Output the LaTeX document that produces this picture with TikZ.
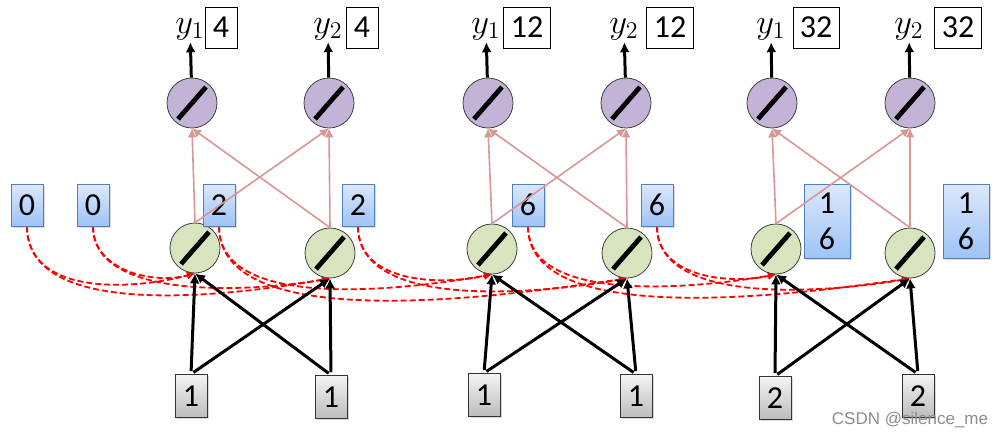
\documentclass[tikz,border=0pt]{standalone}
\usepackage{fontspec}
\setmainfont{Carlito}
\newfontfamily\wmfont{Liberation Sans}
\usetikzlibrary{arrows.meta}
\usetikzlibrary{positioning}
\usetikzlibrary{shadows}
\usetikzlibrary{backgrounds}

\definecolor{hidgreen}{HTML}{D7E4BD}
\definecolor{outpurple}{HTML}{C3B3D6}
\definecolor{linkpink}{HTML}{D99694}
\definecolor{memblue}{HTML}{4F81BD}
\definecolor{memtop}{HTML}{DCE8FB}
\definecolor{membot}{HTML}{9DC3F7}
\definecolor{intop}{HTML}{F4F4F4}
\definecolor{inbot}{HTML}{BCBCBC}

\begin{document}
\begin{tikzpicture}[x=0.5pt,y=0.5pt]
			\tikzset{slash/.style = {path picture={\draw[black, line width=2.4pt] 
						([shift={(-7pt,-8pt)}]path picture bounding box.center) -- 
						([shift={(7pt,8pt)}]path picture bounding box.center);}}}
			\tikzset{hidunit/.style = {shape=circle,draw=black!75,fill=hidgreen,
					minimum size=25pt, inner sep = 0pt, slash}}
			\tikzset{outunit/.style = {shape=circle,draw=black!75,fill=outpurple,
					minimum size=25pt, inner sep = 0pt, slash}}
			\tikzset{membox/.style = {shape=rectangle,draw=memblue,top color=memtop,
					bottom color=membot,minimum width=16pt,minimum height=21pt,
					inner sep = 0pt,font=\fontsize{16}{19}\selectfont,
					drop shadow={shadow xshift=0.8pt,shadow yshift=-0.8pt,opacity=0.3}}}
			\tikzset{inbox/.style = {shape=rectangle,draw=black!80,top color=intop,
					bottom color=inbot,minimum width=16pt,minimum height=21.5pt,
					inner sep = 0pt,font=\fontsize{16}{19}\selectfont,
					drop shadow={shadow xshift=0.8pt,shadow yshift=-0.8pt,opacity=0.3}}}
			\tikzset{valbox/.style = {shape=rectangle,draw,fill=white,minimum 
					width=16pt,minimum height=20.5pt,inner sep = 0pt,
					font=\fontsize{16}{19}\selectfont}}
			\tikzset{ylab/.style = {inner sep=1pt,font=\fontsize{17}{19}\selectfont}}
			\tikzset{inedge/.style = {-{Latex[length=5pt,width=5pt]}, line width=1.5pt, 
					shorten <= 1.5pt}}
			\tikzset{hoedge/.style = {-{Latex[length=4.5pt,width=4.5pt]}, 
					linkpink, line width=0.8pt}}
			\tikzset{yedge/.style = {-{Latex[length=5pt,width=5pt]}, line width=1.5pt}}
			\tikzset{ctxedge/.style = {-{Latex[length=4pt,width=4pt]}, red, 
					line width=0.9pt, dash pattern=on 3pt off 1.5pt}}
			
			\useasboundingbox (0,0) rectangle (995,436);
			
			% first step
			\node[hidunit] (h11) at (195,188) {};
			\node[hidunit] (h12) at (330,183) {};
			\node[outunit] (o11) at (192,333) {};
			\node[outunit] (o12) at (329,333) {};
			\node[inbox] (in11) at (191,40) {1};
			\node[inbox] (in12) at (331,39) {1};
			\node[membox] (m01) at (27,231) {0};
			\node[membox] (m02) at (93,231) {0};
			\node[membox] (m11) at (219,231) {2};
			\node[membox] (m12) at (358,231) {2};
			\node[ylab] (y11) at (190,407) {$y_1$};
			\node[ylab] (y12) at (328,407) {$y_2$};
			\node[valbox] (v11) at (221,408.5) {4};
			\node[valbox] (v12) at (362,408.5) {4};
			
			% second step
			\node[hidunit] (h21) at (492,187) {};
			\node[hidunit] (h22) at (627,183) {};
			\node[outunit] (o21) at (488,333) {};
			\node[outunit] (o22) at (626,333) {};
			\node[inbox] (in21) at (484,41) {1};
			\node[inbox] (in22) at (636,40) {1};
			\node[membox] (m21) at (528,231) {6};
			\node[membox] (m22) at (657,231) {6};
			\node[ylab] (y21) at (486,407) {$y_1$};
			\node[ylab] (y22) at (624,407) {$y_2$};
			\node[valbox, minimum width=23.5pt] (v21) at (527,408.5) {12};
			\node[valbox, minimum width=23.5pt] (v22) at (670,408.5) {12};
			
			% third step
			\node[hidunit] (h31) at (776,187) {};
			\node[hidunit] (h32) at (910,183) {};
			\node[outunit] (o31) at (772,333) {};
			\node[outunit] (o32) at (910,333) {};
			\node[inbox] (in31) at (775,38) {2};
			\node[inbox] (in32) at (918,40) {2};
			\node[membox, minimum width=23pt, minimum height=37pt, align=center,
			font=\fontsize{16}{18}\selectfont] (m31) at (827,215) {1\\6};
			\node[membox, minimum width=23pt, minimum height=37pt, align=center,
			font=\fontsize{16}{18}\selectfont] (m32) at (966,215) {1\\6};
			\node[ylab] (y31) at (771,407) {$y_1$};
			\node[ylab] (y32) at (909,407) {$y_2$};
			\node[valbox, minimum width=23pt] (v31) at (816,408.5) {32};
			\node[valbox, minimum width=23.5pt] (v32) at (958,408.5) {32};
			
			\node[font=\wmfont\fontsize{8.5}{10}\selectfont, text=black!45] (wm) 
			at (910,16) {CSDN @silence\_me};
			
			%edges
			
			\draw[inedge] (in11.north) to (h11.south);
			\draw[inedge] (in11.north) to (h12.south);
			\draw[inedge] (in12.north) to (h12.south);
			\draw[inedge] (in12.north) to (h11.south);
			\draw[inedge] (in21.north) to (h21.south);
			\draw[inedge] (in21.north) to (h22.south);
			\draw[inedge] (in22.north) to (h22.south);
			\draw[inedge] (in22.north) to (h21.south);
			\draw[inedge] (in31.north) to (h31.south);
			\draw[inedge] (in31.north) to (h32.south);
			\draw[inedge] (in32.north) to (h32.south);
			\draw[inedge] (in32.north) to (h31.south);
			
			\draw[hoedge] (h11.north) to (o11.south);
			\draw[hoedge] (h11.north) to (o12.south);
			\draw[hoedge] (h12.north) to (o12.south);
			\draw[hoedge] (h12.north) to (o11.south);
			\draw[hoedge] (h21.north) to (o21.south);
			\draw[hoedge] (h21.north) to (o22.south);
			\draw[hoedge] (h22.north) to (o22.south);
			\draw[hoedge] (h22.north) to (o21.south);
			\draw[hoedge] (h31.north) to (o31.south);
			\draw[hoedge] (h31.north) to (o32.south);
			\draw[hoedge] (h32.north) to (o32.south);
			\draw[hoedge] (h32.north) to (o31.south);
			
			\draw[yedge] (o11) to (y11);
			\draw[yedge] (o12) to (y12);
			\draw[yedge] (o21) to (y21);
			\draw[yedge] (o22) to (y22);
			\draw[yedge] (o31) to (y31);
			\draw[yedge] (o32) to (y32);
			
			% context copies, dashed
			\begin{pgfonlayer}{background}
			\draw[ctxedge] (m01.south) to[out=-90, in=195] (h11.south);
			\draw[ctxedge] (m01.south) to[out=-90, in=190, looseness=0.8] (h12.south);
			\draw[ctxedge] (m02.south) to[out=-90, in=195] (h11.south);
			\draw[ctxedge] (m02.south) to[out=-90, in=190, looseness=0.8] (h12.south);
			\draw[ctxedge] (m11.south) to[out=-90, in=190, looseness=0.8] (h21.south);
			\draw[ctxedge] (m11.south) to[out=-90, in=188, looseness=0.7] (h22.south);
			\draw[ctxedge] (m12.south) to[out=-90, in=192] (h21.south);
			\draw[ctxedge] (m12.south) to[out=-90, in=190, looseness=0.8] (h22.south);
			\draw[ctxedge] (m21.south) to[out=-90, in=190, looseness=0.8] (h31.south);
			\draw[ctxedge] (m21.south) to[out=-90, in=188, looseness=0.7] (h32.south);
			\draw[ctxedge] (m22.south) to[out=-90, in=192] (h31.south);
			\draw[ctxedge] (m22.south) to[out=-90, in=190, looseness=0.8] (h32.south);
			\end{pgfonlayer}
			
\end{tikzpicture}
\end{document}
